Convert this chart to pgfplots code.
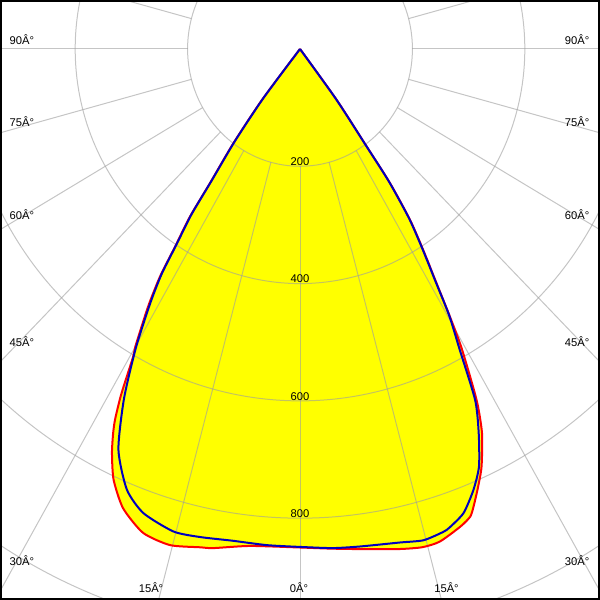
\documentclass[border=0pt]{standalone}
\usepackage{fontspec}
\setmainfont{Liberation Sans}
\usepackage{pgfplots}
\usepackage{pgfplotstable}
\pgfplotsset{compat=1.18}

% angle from nadir (deg, negative = left), intensity (cd)
\pgfplotstableread{
angle cd
-90 0
-37.9 110
-36.4 200
-35.0 279
-34.4 347
-33.4 404
-32.7 461
-31.6 516
-30.0 586
-29.5 603
-28.6 656
-28.2 679
-27.5 713
-26.9 735
-25.9 766
-24.3 806
-21.9 844
-18.7 871
-15.3 877
-11.8 868
-10.3 865
-6.0 852
0.0 850
3.9 854
7.9 861
11.8 871
14.4 877
16.5 876
19.3 863
20.8 853
21.6 839
23.0 811
24.4 782
26.3 731
27.7 676
29.4 586
30.3 529
31.3 468
32.6 407
33.9 351
35.0 279
35.5 205
36.9 109
90 0
}\redC

\pgfplotstableread{
angle cd
-90 0
-37.9 106
-36.4 196
-35.0 275
-34.4 342
-33.4 399
-32.7 455
-31.6 508
-29.8 588
-27.7 674
-25.3 756
-22.3 812
-19.4 839
-15.3 853
-12.1 851
-8.1 847
-4.0 848
0.0 849
3.9 853
7.2 855
11.9 860
14.7 866
17.2 862
18.1 858
20.2 843
22.3 813
24.1 780
25.9 728
27.5 675
29.0 586
30.3 526
31.3 465
32.6 404
33.9 348
35.0 276
35.5 202
36.9 107
90 0
}\blueC

\definecolor{gridc}{gray}{0.62}
\definecolor{curveblue}{RGB}{0,0,190}
\definecolor{fillyellow}{RGB}{255,255,0}
\definecolor{curvered}{RGB}{255,0,0}
\tikzset{lbl/.style={font=\fontsize{8.4}{10}\selectfont, inner sep=0pt}}

\begin{document}
\begin{tikzpicture}
\begin{axis}[name=ax, scale only axis, width=450pt, height=450pt,
  xmin=-533.8, xmax=533.8, ymin=-939.5, ymax=83.5,
  axis line style={draw=none}, ticks=none, clip=true]
\addplot[fill=fillyellow, draw=none, data cs=polar, smooth, tension=0.4]
  table[x expr=\thisrow{angle}-90, y=cd] {\redC};
\pgfplotsinvokeforeach{200,400,600,800,1000}{
  \draw[gridc, line width=0.75pt, opacity=0.6] (axis cs:0,0) ellipse[x radius=#1, y radius=#1];
}
\pgfplotsinvokeforeach{0,15,...,345}{
  \draw[gridc, line width=0.75pt, opacity=0.6] (axis cs:{200*cos(#1)},{200*sin(#1)}) -- (axis cs:{1300*cos(#1)},{1300*sin(#1)});
}
\pgfplotsinvokeforeach{200,400,600,800}{
  \node[lbl, anchor=base, yshift=0.6pt] at (axis cs:0,-#1) {#1};
}
\addplot[curvered, line width=1.5pt, data cs=polar, smooth, tension=0.4]
  table[x expr=\thisrow{angle}-90, y=cd] {\redC};
\addplot[curveblue, line width=1.5pt, data cs=polar, smooth, tension=0.4]
  table[x expr=\thisrow{angle}-90, y=cd] {\blueC};
% angle labels
\node[lbl, anchor=base west] at (rel axis cs:0.0158,0.925) {90Â°};
\node[lbl, anchor=base west] at (rel axis cs:0.0158,0.79) {75Â°};
\node[lbl, anchor=base west] at (rel axis cs:0.0158,0.635) {60Â°};
\node[lbl, anchor=base west] at (rel axis cs:0.0158,0.4233) {45Â°};
\node[lbl, anchor=base west] at (rel axis cs:0.0158,0.0583) {30Â°};
\node[lbl, anchor=base east] at (rel axis cs:0.9825,0.925) {90Â°};
\node[lbl, anchor=base east] at (rel axis cs:0.9825,0.79) {75Â°};
\node[lbl, anchor=base east] at (rel axis cs:0.9825,0.635) {60Â°};
\node[lbl, anchor=base east] at (rel axis cs:0.9825,0.4233) {45Â°};
\node[lbl, anchor=base east] at (rel axis cs:0.9825,0.0583) {30Â°};
\node[lbl, anchor=base] at (rel axis cs:0.2517,0.0117) {15Â°};
\node[lbl, anchor=base] at (rel axis cs:0.4983,0.0117) {0Â°};
\node[lbl, anchor=base] at (rel axis cs:0.7442,0.0117) {15Â°};
\end{axis}
\draw[line width=1.5pt] ([shift={(0.75pt,0.75pt)}]ax.south west) rectangle ([shift={(-0.75pt,-0.75pt)}]ax.north east);
\pgfresetboundingbox
\path (ax.south west) rectangle (ax.north east);
\end{tikzpicture}
\end{document}
